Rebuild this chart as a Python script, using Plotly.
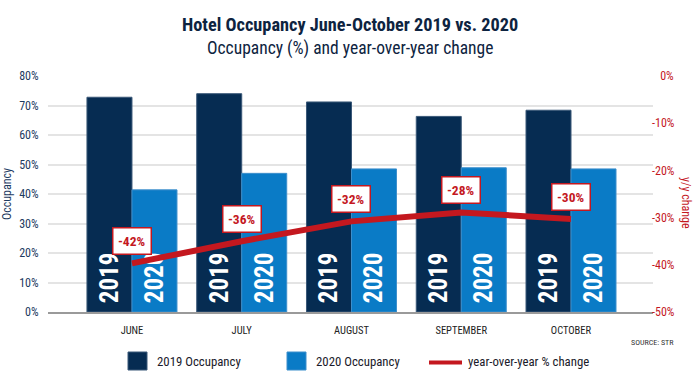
import plotly.graph_objects as go

# ---- data ----
months = ["JUNE", "JULY", "AUGUST", "SEPTEMBER", "OCTOBER"]
occ_2019 = [72.8, 74.0, 71.2, 66.3, 68.4]
occ_2020 = [41.4, 47.0, 48.5, 48.9, 48.5]
yoy_line = [-39.7, -35.0, -30.8, -28.9, -30.3]
yoy_labels = ["-42%", "-36%", "-32%", "-28%", "-30%"]
bar_text_2019 = ["\u00a02019"] * 5
bar_text_2020 = ["\u00a02020"] * 5
left_ticks = [0, 10, 20, 30, 40, 50, 60, 70, 80]
left_tick_text = ["0%", "10%", "20%", "30%", "40%", "50%", "60%", "70%", "80%"]
right_ticks = [-50, -40, -30, -20, -10, 0]
right_tick_text = ["-50%", "-40%", "-30%", "-20%", "-10%", "\u2007\u20090%"]

NAVY = "#062c52"
BLUE = "#0a7bc6"
RED = "#c4181f"
TXT = "#0d2340"
COND = "Roboto Condensed, Open Sans Condensed, DejaVu Sans Condensed, sans-serif"

W, H = 700, 387
ML, MR, MT, MB = 48, 47, 76, 75
PW = W - ML - MR
PH = H - MT - MB


def px(x):
    return (x - ML) / PW


def py(y):
    return (H - MB - y) / PH


fig = go.Figure()
fig.add_trace(go.Bar(
    x=months, y=occ_2019, name="2019 Occupancy", marker_color=NAVY,
    marker_line=dict(color="#3a5878", width=1),
    text=bar_text_2019, textposition="inside", insidetextanchor="start",
    textangle=-90, textfont=dict(family=COND, size=25, color="white", weight=700),
    showlegend=False, hoverinfo="skip"))
fig.add_trace(go.Bar(
    x=months, y=occ_2020, name="2020 Occupancy", marker_color=BLUE,
    marker_line=dict(color="#3d8fcc", width=1),
    text=bar_text_2020, textposition="inside", insidetextanchor="start",
    textangle=-90, textfont=dict(family=COND, size=25, color="white", weight=700),
    showlegend=False, hoverinfo="skip"))
fig.add_trace(go.Scatter(
    x=months, y=yoy_line, yaxis="y2", mode="lines", name="year-over-year % change",
    line=dict(color=RED, width=6), showlegend=False, hoverinfo="skip"))

annotations = []
for m, v, lab in zip(months, yoy_line, yoy_labels):
    annotations.append(dict(
        x=m, y=v, xref="x", yref="y2", text="<b>%s</b>" % lab, showarrow=False,
        yshift=22, font=dict(family=COND, size=13.5, color=RED),
        bgcolor="white", bordercolor=RED, borderwidth=1.5, borderpad=4.5))

annotations += [
    dict(x=px(350), y=py(25), xref="paper", yref="paper", showarrow=False,
         text="<b>Hotel Occupancy June-October 2019 vs. 2020</b>",
         font=dict(family=COND, size=18.3, color=TXT), xanchor="center", yanchor="middle"),
    dict(x=px(350), y=py(48), xref="paper", yref="paper", showarrow=False,
         text="Occupancy (%) and year-over-year change",
         font=dict(family=COND, size=17.5, color=TXT), xanchor="center", yanchor="middle"),
    dict(x=px(686), y=py(203), xref="paper", yref="paper", showarrow=False,
         text="y/y change", textangle=90,
         font=dict(family=COND, size=12, color=RED), xanchor="center", yanchor="middle"),
    dict(x=px(676), y=py(342), xref="paper", yref="paper", showarrow=False,
         text="SOURCE: STR", font=dict(family=COND, size=8, color="#333"),
         xanchor="right", yanchor="middle"),
    dict(x=px(155), y=py(361.5), xref="paper", yref="paper", showarrow=False,
         text="2019 Occupancy", font=dict(family=COND, size=12.8, color="#1a1a2a"),
         xanchor="left", yanchor="middle"),
    dict(x=px(314), y=py(361.5), xref="paper", yref="paper", showarrow=False,
         text="2020 Occupancy", font=dict(family=COND, size=12.8, color="#1a1a2a"),
         xanchor="left", yanchor="middle"),
    dict(x=px(466), y=py(361.5), xref="paper", yref="paper", showarrow=False,
         text="year-over-year % change", font=dict(family=COND, size=12.8, color="#1a1a2a"),
         xanchor="left", yanchor="middle"),
]

shapes = [
    dict(type="rect", xref="paper", yref="paper", x0=px(128), x1=px(147),
         y0=py(352), y1=py(370), fillcolor=NAVY, line=dict(color="#3a5878", width=1)),
    dict(type="rect", xref="paper", yref="paper", x0=px(287), x1=px(306),
         y0=py(352), y1=py(370), fillcolor=BLUE, line=dict(color="#3d8fcc", width=1)),
    dict(type="line", xref="paper", yref="paper", x0=px(429), x1=px(462),
         y0=py(362.5), y1=py(362.5), line=dict(color=RED, width=4)),
]

fig.update_layout(
    width=W, height=H, margin=dict(l=ML, r=MR, t=MT, b=MB, autoexpand=False),
    paper_bgcolor="white", plot_bgcolor="white",
    barmode="group", bargap=0.18, bargroupgap=0,
    annotations=annotations, shapes=shapes,
    xaxis=dict(range=[-0.765, 4.747], automargin=False,
               showgrid=False, showline=True, linecolor="#9a9a9a", linewidth=2,
               ticks="outside", ticklen=7, tickcolor="rgba(0,0,0,0)",
               tickfont=dict(family=COND, size=10.5, color="#222")),
    yaxis=dict(range=[0, 80], tickvals=left_ticks, ticktext=left_tick_text,
               showgrid=True, automargin=False,
               gridcolor="#e4e4e4", gridwidth=1.5, zeroline=False,
               ticks="outside", ticklen=6, tickcolor="rgba(0,0,0,0)",
               tickfont=dict(family=COND, size=12, color="#1d3a5f"),
               title=dict(text="Occupancy", standoff=5,
                          font=dict(family=COND, size=12, color="#1d3a5f"))),
    yaxis2=dict(range=[-50, 0], tickvals=right_ticks, ticktext=right_tick_text,
                overlaying="y", side="right", anchor="x", showgrid=False,
                automargin=False, zeroline=False, ticks="", ticklabelstandoff=-2,
                tickfont=dict(family=COND, size=12, color=RED)),
)

fig.write_html("out.html", config={"displayModeBar": False},
               post_script="document.body.style.margin='0';")
